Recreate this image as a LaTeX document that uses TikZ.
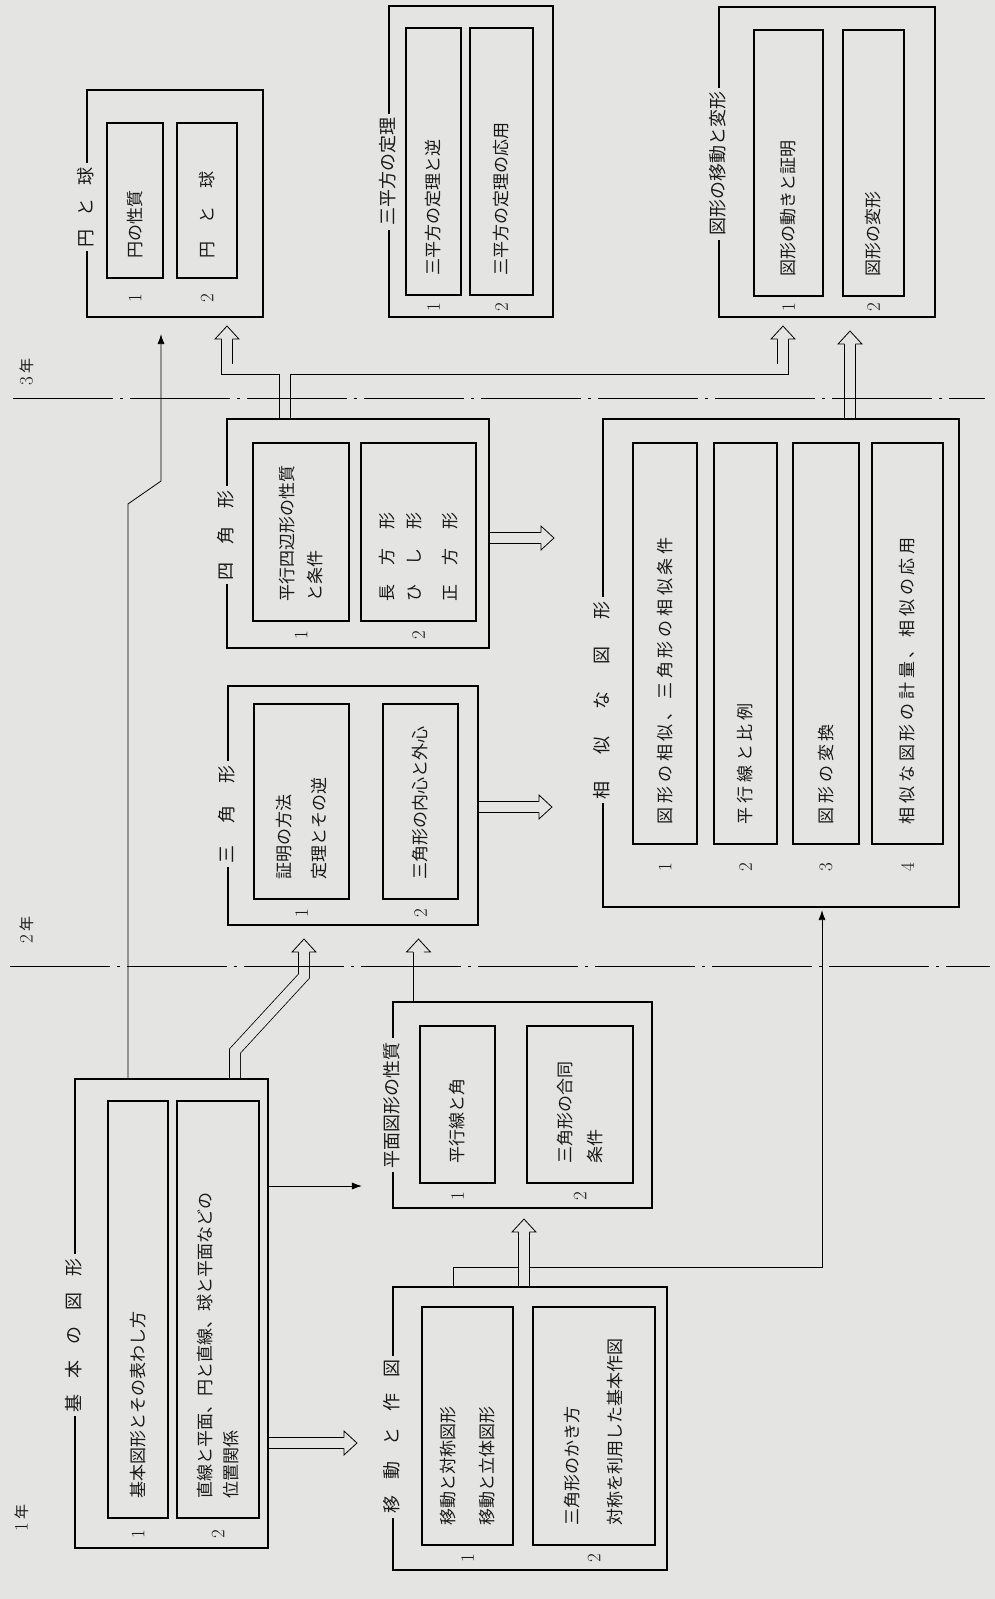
\documentclass[tikz,border=0pt]{standalone}
\usepackage{fontspec}
\usepackage{tikz}
\usetikzlibrary{arrows.meta,calc}
\newfontfamily\jp{Noto Sans CJK JP}
\newfontfamily\jpsp[LetterSpace=22]{Noto Sans CJK JP}
\definecolor{paper}{RGB}{228,228,226}

\tikzset{
  box/.style={draw, line width=2.1pt, inner sep=0pt},
  item/.style={draw, line width=1.8pt, rotate=90, align=left, inner xsep=20pt, inner ysep=0pt, text=black!90, font=\jp\fontsize{17}{30}\selectfont},
  ttl/.style={rotate=90, fill=paper, inner sep=4pt, text=black!90, font=\jp\fontsize{18}{20}\selectfont},
  num/.style={rotate=90, inner sep=1pt, text=black!90, font=\fontsize{19}{19}\selectfont},
  yr/.style={rotate=90, text=black!90, font=\fontsize{19}{19}\selectfont},
  arr/.style={line width=0.8pt, -{Latex[length=10pt,width=7pt]}},
  hollow/.style={draw, double=paper, double distance=10pt, line width=0.8pt},
  yline/.style={line width=1pt, dash pattern=on 100pt off 7pt on 3pt off 7pt},
  hhead/.pic={\filldraw[fill=paper, line width=0.8pt] (-5.4,13) -- (-12,13) -- (0,0) -- (12,13) -- (5.4,13);}
}

\begin{document}
\begin{tikzpicture}[x=1pt, y=-1pt]
\fill[paper] (0,0) rectangle (995,1599);
\useasboundingbox (0,0) rectangle (995,1599);

%outer boxes
\node[box, minimum width=193pt, minimum height=469pt] (kihon) at (171.5,1313.5) {};
\node[box, minimum width=274pt, minimum height=283pt] (idou) at (530,1428.5) {};
\node[box, minimum width=259pt, minimum height=206pt] (heimen) at (522.5,1105) {};
\node[box, minimum width=250pt, minimum height=239pt] (sankaku) at (353,805.5) {};
\node[box, minimum width=262pt, minimum height=229pt] (shikaku) at (358,533.5) {};
\node[box, minimum width=356pt, minimum height=488pt] (soji) at (781,663) {};
\node[box, minimum width=176pt, minimum height=227pt] (en) at (175,203.5) {};
\node[box, minimum width=164pt, minimum height=311pt] (sanhei) at (471,161.5) {};
\node[box, minimum width=216pt, minimum height=310pt] (henkei) at (827,162) {};

%1st year
\node[item, text width=377pt, minimum height=60pt] (k1) at (138,1309.5) {基本図形とその表わし方};
\node[item, text width=377pt, minimum height=82pt] (k2) at (218,1309.5) {直線と平面、円と直線、球と平面などの\\[-4pt]位置関係};
\node[item, text width=198pt, minimum height=91pt] (i1) at (467.5,1426) {移動と対称図形\\[9pt]移動と立体図形};
\node[item, text width=198pt, minimum height=122pt] (i2) at (594,1426) {三角形のかき方\\[13pt]対称を利用した基本作図};
\node[item, text width=117pt, minimum height=75pt] (h1) at (457.5,1104.5) {平行線と角};
\node[item, text width=117pt, minimum height=106pt] (h2) at (580,1104.5) {三角形の合同\\条件};

%2nd year
\node[item, text width=155pt, minimum height=95pt] (t1) at (301.5,801.5) {証明の方法\\[5pt]定理とその逆};
\node[item, text width=155pt, minimum height=75pt] (t2) at (420.5,801.5) {三角形の内心と外心};
\node[item, text width=138pt, minimum height=96pt] (q1) at (301,532) {平行四辺形の性質\\[-2pt]と条件};
\node[item, text width=138pt, minimum height=115pt] (q2) at (418.5,532) {長\hspace{19pt}方\hspace{19pt}形\\[-3pt]ひ\hspace{19pt}し\hspace{19pt}形\\[6pt]正\hspace{19pt}方\hspace{19pt}形};
\node[item, font=\jpsp\fontsize{17}{30}\selectfont, text width=361pt, minimum height=64pt] (s1) at (665,643.5) {図形の相似、三角形の相似条件};
\node[item, font=\jpsp\fontsize{17}{30}\selectfont, text width=361pt, minimum height=63pt] (s2) at (745.5,643.5) {平行線と比例};
\node[item, font=\jpsp\fontsize{17}{30}\selectfont, text width=361pt, minimum height=66pt] (s3) at (826,643.5) {図形の変換};
\node[item, font=\jpsp\fontsize{17}{30}\selectfont, text width=361pt, minimum height=71pt] (s4) at (907.5,643.5) {相似な図形の計量、相似の応用};

%3rd year
\node[item, text width=115pt, minimum height=56pt] (e1) at (135,200.5) {円の性質};
\node[item, text width=115pt, minimum height=60pt] (e2) at (207,200.5) {円\hspace{18pt}と\hspace{18pt}球};
\node[item, text width=227pt, minimum height=55pt] (p1) at (433.5,161.5) {三平方の定理と逆};
\node[item, text width=227pt, minimum height=63pt] (p2) at (501.5,161.5) {三平方の定理の応用};
\node[item, text width=226pt, minimum height=69pt] (g1) at (788.5,163) {図形の動きと証明};
\node[item, text width=226pt, minimum height=61pt] (g2) at (873.5,163) {図形の変形};

%numbers
\node[num] (k1n) at ($(k1.west)!.5!(k1.west |- kihon.south)$) {1};
\node[num] (k2n) at ($(k2.west)!.5!(k2.west |- kihon.south)$) {2};
\node[num] (i1n) at ($(i1.west)!.5!(i1.west |- idou.south)$) {1};
\node[num] (i2n) at ($(i2.west)!.5!(i2.west |- idou.south)$) {2};
\node[num] (h1n) at ($(h1.west)!.5!(h1.west |- heimen.south)$) {1};
\node[num] (h2n) at ($(h2.west)!.5!(h2.west |- heimen.south)$) {2};
\node[num] (t1n) at ($(t1.west)!.5!(t1.west |- sankaku.south)$) {1};
\node[num] (t2n) at ($(t2.west)!.5!(t2.west |- sankaku.south)$) {2};
\node[num] (q1n) at ($(q1.west)!.5!(q1.west |- shikaku.south)$) {1};
\node[num] (q2n) at ($(q2.west)!.5!(q2.west |- shikaku.south)$) {2};
\node[num] (s1n) at ($(s1.west)!.35!(s1.west |- soji.south)$) {1};
\node[num] (s2n) at ($(s2.west)!.35!(s2.west |- soji.south)$) {2};
\node[num] (s3n) at ($(s3.west)!.35!(s3.west |- soji.south)$) {3};
\node[num] (s4n) at ($(s4.west)!.35!(s4.west |- soji.south)$) {4};
\node[num] (e1n) at ($(e1.west)!.5!(e1.west |- en.south)$) {1};
\node[num] (e2n) at ($(e2.west)!.5!(e2.west |- en.south)$) {2};
\node[num] (p1n) at ($(p1.west)!.5!(p1.west |- sanhei.south)$) {1};
\node[num] (p2n) at ($(p2.west)!.5!(p2.west |- sanhei.south)$) {2};
\node[num] (g1n) at ($(g1.west)!.5!(g1.west |- henkei.south)$) {1};
\node[num] (g2n) at ($(g2.west)!.5!(g2.west |- henkei.south)$) {2};

%titles
\node[ttl] (kihont) at ([yshift=-21.5pt]kihon.west) {基\hspace{16pt}本\hspace{16pt}の\hspace{16pt}図\hspace{16pt}形};
\node[ttl] (idout) at ([yshift=-8pt]idou.west) {移\hspace{16pt}動\hspace{16pt}と\hspace{16pt}作\hspace{16pt}図};
\node[ttl] (heiment) at (heimen.west) {平面図形の性質};
\node[ttl] (sankakut) at ([yshift=-8.5pt]sankaku.west) {三\hspace{22pt}角\hspace{22pt}形};
\node[ttl] (shikakut) at ([yshift=-1.5pt]shikaku.west) {四\hspace{18pt}角\hspace{18pt}形};
\node[ttl] (sojit) at ([yshift=-37pt]soji.west) {相\hspace{27pt}似\hspace{27pt}な\hspace{27pt}図\hspace{27pt}形};
\node[ttl] (ent) at ([yshift=-3.5pt]en.west) {円\hspace{13pt}と\hspace{13pt}球};
\node[ttl] (sanheit) at ([yshift=-10pt]sanhei.west) {三平方の定理};
\node[ttl] (henkeit) at ([yshift=-1.5pt]henkei.west) {図形の移動と変形};

%thin arrows
\coordinate (jog1) at ([xshift=-43.5pt, yshift=574pt]kihon.north);
\coordinate (jog2) at ([xshift=-14pt, yshift=-163pt]en.south);
\draw[arr] ([xshift=-43.5pt]kihon.north) -- (jog1) -- (jog2) -- ([xshift=-14pt, yshift=-16pt]en.south);
\draw[arr] ([yshift=127.5pt]kihon.east) -- ([xshift=-30pt, yshift=-81pt]heimen.west);
\coordinate (idj) at ([yshift=19pt]idou.north);
\draw[arr] ([xshift=-77pt]idou.north) |- (idj) -| ([xshift=41pt, yshift=-2pt]soji.south);

%hollow arrows
\coordinate (bend1) at ([xshift=63.5pt, yshift=27pt]kihon.north);
\coordinate (bend2) at ([xshift=-49pt, yshift=-50pt]sankaku.south);
\draw[hollow] ([xshift=63.5pt]kihon.north) -- (bend1) -- (bend2) -- ([xshift=-49pt, yshift=-26pt]sankaku.south);
\pic at ([xshift=-49pt, yshift=-13pt]sankaku.south) {hhead};
\draw[hollow] ([xshift=-104pt]heimen.north) -- ([xshift=65.5pt, yshift=-26pt]sankaku.south);
\pic at ([xshift=65.5pt, yshift=-13pt]sankaku.south) {hhead};
\draw[hollow] ([xshift=-6pt]idou.north) -- ([xshift=1.5pt, yshift=-23pt]heimen.south);
\pic at ([xshift=1.5pt, yshift=-10pt]heimen.south) {hhead};
\draw[hollow] ([yshift=-129.5pt]kihon.east) -- ([xshift=-48pt, yshift=-14.5pt]idou.west);
\pic[rotate=-90] at ([xshift=-35pt, yshift=-14.5pt]idou.west) {hhead};
\draw[hollow] ([yshift=-1.5pt]sankaku.east) -- ([xshift=-63pt, yshift=-144pt]soji.west);
\pic[rotate=-90] at ([xshift=-50pt, yshift=-144pt]soji.west) {hhead};
\draw[hollow] ([yshift=-4.5pt]shikaku.east) -- ([xshift=-61pt, yshift=125pt]soji.west);
\pic[rotate=-90] at ([xshift=-48pt, yshift=125pt]soji.west) {hhead};
\draw[hollow] ([xshift=69pt]soji.north) -- ([xshift=23pt, yshift=-26pt]henkei.south);
\pic at ([xshift=23pt, yshift=-13pt]henkei.south) {hhead};

%the T from shikaku
\coordinate (tee) at ([xshift=-73pt, yshift=48.5pt]shikaku.north);
\draw[hollow] ([xshift=-73pt]shikaku.north) -- (tee);
\draw[hollow] ([xshift=52pt, yshift=-21pt]en.south) |- (tee) -| ([xshift=-44pt, yshift=-21pt]henkei.south);
\fill[paper] ([xshift=-4.6pt, yshift=-7pt]tee) rectangle ([xshift=4.6pt]tee);
\pic at ([xshift=52pt, yshift=-8pt]en.south) {hhead};
\pic at ([xshift=-44pt, yshift=-8pt]henkei.south) {hhead};

%years
\draw[yline] (13,398) -- (985,398);
\draw[yline] (10,966) -- (990,966);
\node[yr] (y3) at (27,372) {3\,{\jp\fontsize{15}{15}\selectfont 年}};
\node[yr] (y2) at (27,930) {2\,{\jp\fontsize{15}{15}\selectfont 年}};
\node[yr] (y1) at (22,1518) {1\,{\jp\fontsize{15}{15}\selectfont 年}};
\end{tikzpicture}
\end{document}
